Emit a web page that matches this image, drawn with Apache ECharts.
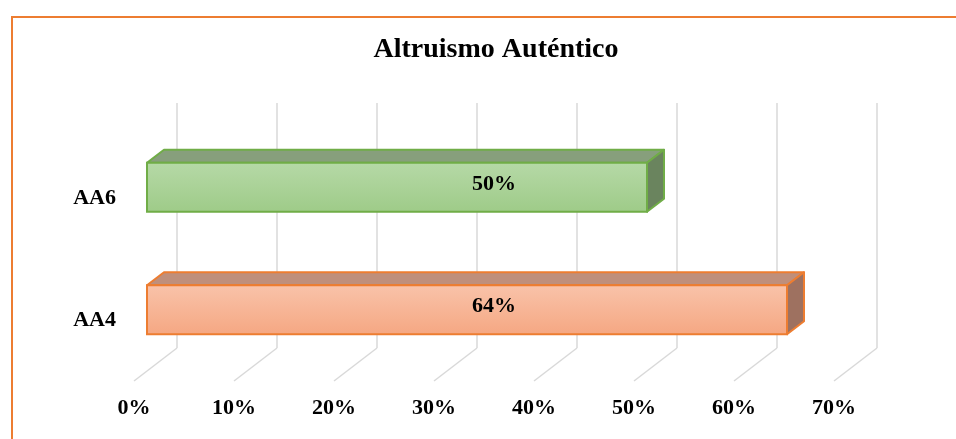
<!DOCTYPE html>
<html>
<head>
<meta charset="utf-8">
<script src="https://cdn.jsdelivr.net/npm/echarts@6/dist/echarts.min.js"></script>
<style>html,body{margin:0;padding:0;background:#fff}#c{width:956px;height:439px}</style>
</head>
<body>
<div id="c"></div>
<script>
var titleText = 'Altruismo Auténtico';
var categories = ['AA4', 'AA6'];
var values = [64, 50];
var valueLabels = ['64%', '50%'];
var tickValues = [0, 10, 20, 30, 40, 50, 60, 70];

var FONT = '"Liberation Serif", "Times New Roman", serif';
var palettes = [
  {front: ['#f9c3aa', '#f5a782'], border: '#ed7d31', top: '#bf8f7b', side: '#9e7160'},
  {front: ['#b6d9a7', '#9ecb88'], border: '#70ad47', top: '#879f7c', side: '#6a845e'}
];
var DX = 17, DY = -13;

var chart = echarts.init(document.getElementById('c'), null, {renderer: 'canvas'});

var barData = values.map(function (v, i) { return [v, i]; });
var tickData = tickValues.map(function (t) { return [t, 0]; });

chart.setOption({
  animation: false,
  backgroundColor: '#ffffff',
  title: {
    text: titleText, left: 491, top: 31, textAlign: 'center',
    textStyle: {fontFamily: FONT, fontWeight: 'bold', fontSize: 28, color: '#000'}
  },
  graphic: [{
    type: 'rect', z: 0, silent: true,
    shape: {x: 12, y: 17, width: 960, height: 440},
    style: {fill: 'none', stroke: '#ed7d31', lineWidth: 2}
  }],
  grid: [
    {left: 177, width: 700, top: 103, height: 245},
    {left: 134, width: 700, top: 103, height: 278},
    {left: 147, width: 700, top: 126, height: 245}
  ],
  xAxis: [
    {gridIndex: 0, type: 'value', min: 0, max: 70, interval: 10,
     axisLine: {show: false}, axisTick: {show: false}, axisLabel: {show: false},
     splitLine: {show: true, lineStyle: {color: '#d9d9d9', width: 1.5}}},
    {gridIndex: 1, type: 'value', min: 0, max: 70, interval: 10,
     axisLine: {show: false}, axisTick: {show: false}, splitLine: {show: false},
     axisLabel: {margin: 16, formatter: function (v) { return v + '%'; },
       fontFamily: FONT, fontWeight: 'bold', fontSize: 22, color: '#000'}},
    {gridIndex: 2, type: 'value', min: 0, max: 70, interval: 10, show: false}
  ],
  yAxis: [
    {gridIndex: 0, type: 'value', min: 0, max: 1, show: false},
    {gridIndex: 1, type: 'value', min: 0, max: 1, show: false},
    {gridIndex: 2, type: 'category', data: categories,
     axisLine: {show: false}, axisTick: {show: false}, splitLine: {show: false},
     axisLabel: {margin: 31, verticalAlign: 'top',
       fontFamily: FONT, fontWeight: 'bold', fontSize: 22, color: '#000'}}
  ],
  series: [
    {
      type: 'custom', xAxisIndex: 0, yAxisIndex: 0, z: 1, clip: false, silent: true,
      data: tickData,
      renderItem: function (params, api) {
        var p = api.coord([api.value(0), 0]);
        return {type: 'line', shape: {x1: p[0], y1: p[1], x2: p[0] - 43, y2: p[1] + 33},
          style: {stroke: '#d9d9d9', lineWidth: 1.5}};
      }
    },
    {
      type: 'custom', xAxisIndex: 2, yAxisIndex: 2, z: 5, clip: false, silent: true,
      data: barData,
      renderItem: function (params, api) {
        var idx = params.dataIndex;
        var pal = palettes[idx];
        var v = api.value(0), c = api.value(1);
        var s = api.coord([0, c]);
        var e = api.coord([v, c]);
        var bh = api.size([0, 1])[1] * 0.4;
        var x0 = s[0], x1 = e[0], y0 = s[1] - bh / 2, y1 = s[1] + bh / 2;
        var lab = api.coord([34.7, c]);
        return {type: 'group', children: [
          {type: 'polygon', shape: {points: [[x0, y0], [x0 + DX, y0 + DY], [x1 + DX, y0 + DY], [x1, y0]]},
           style: {fill: pal.top, stroke: pal.border, lineWidth: 2, lineJoin: 'round'}},
          {type: 'polygon', shape: {points: [[x1, y0], [x1 + DX, y0 + DY], [x1 + DX, y1 + DY], [x1, y1]]},
           style: {fill: pal.side, stroke: pal.border, lineWidth: 2, lineJoin: 'round'}},
          {type: 'rect', shape: {x: x0, y: y0, width: x1 - x0, height: y1 - y0},
           style: {fill: new echarts.graphic.LinearGradient(0, 0, 0, 1, [
             {offset: 0, color: pal.front[0]}, {offset: 1, color: pal.front[1]}]),
             stroke: pal.border, lineWidth: 2}},
          {type: 'text', x: lab[0], y: lab[1] - 3,
           style: {text: valueLabels[idx], fontFamily: FONT, fontWeight: 'bold', fontSize: 22,
             fill: '#000', align: 'center', verticalAlign: 'middle'}}
        ]};
      }
    }
  ]
});
</script>
</body>
</html>
